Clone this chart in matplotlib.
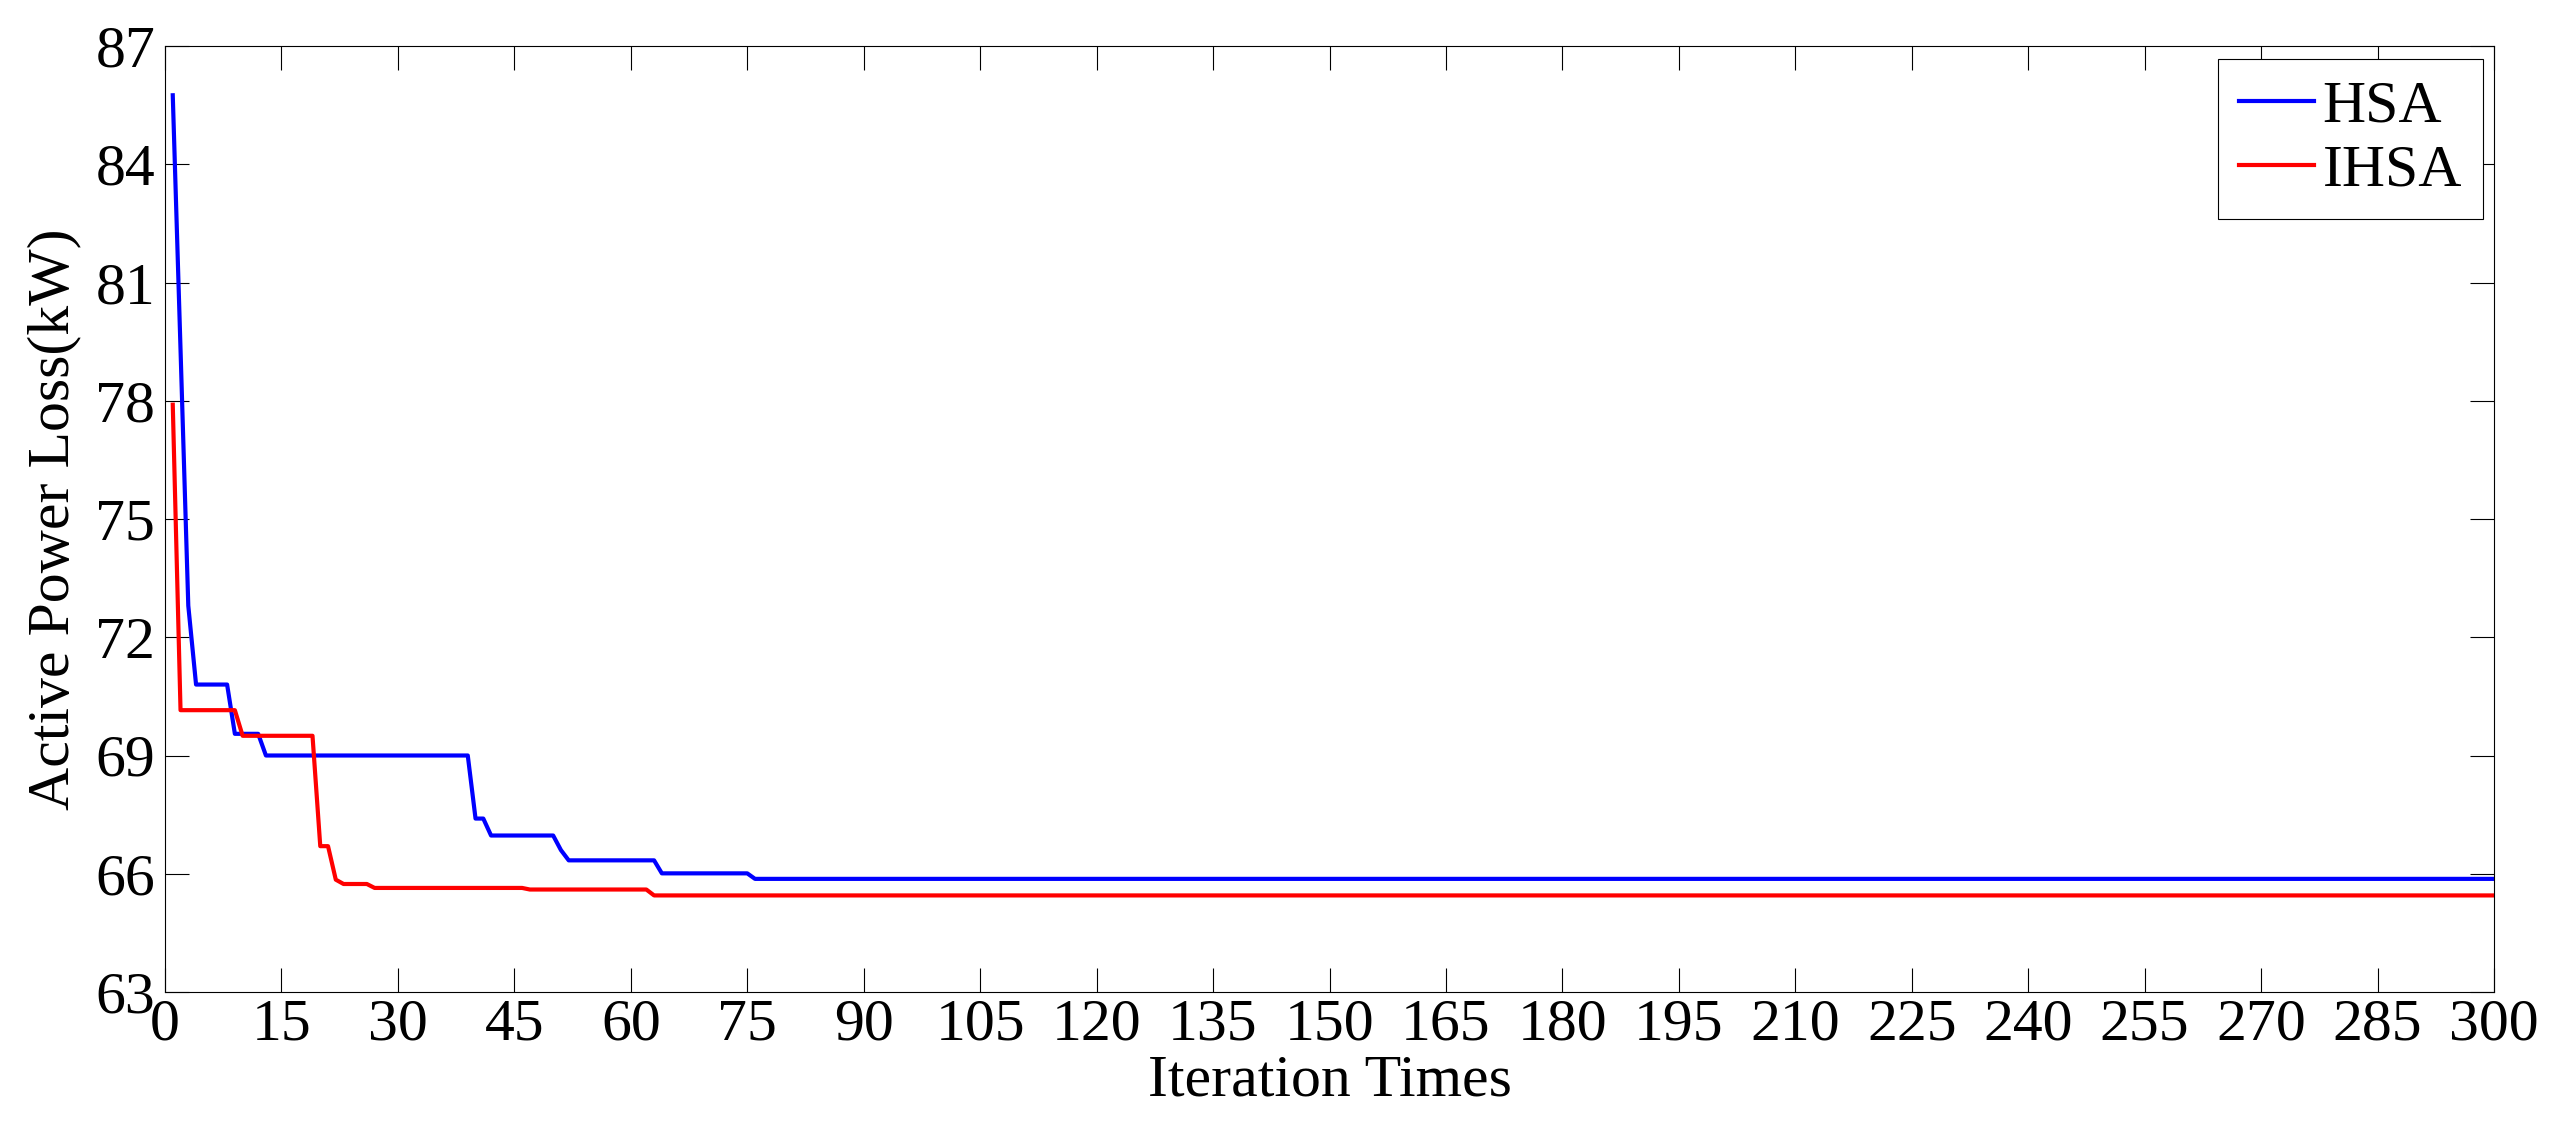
import numpy as np
import matplotlib.pyplot as plt

# Convergence curves (iteration, loss in kW) at the corners of each step
hsa_iter = [1, 2, 3, 4, 8, 9, 12, 13, 39, 40, 41, 42, 50, 51, 52, 63, 64, 75, 76, 300]
hsa_loss = [85.75, 79.3, 72.8, 70.8, 70.8, 69.55, 69.55, 69.0, 69.0, 67.4, 67.4,
            66.97, 66.97, 66.6, 66.34, 66.34, 66.01, 66.01, 65.87, 65.87]

ihsa_iter = [1, 2, 9, 10, 19, 20, 21, 22, 23, 26, 27, 46, 47, 62, 63, 300]
ihsa_loss = [77.9, 70.15, 70.15, 69.5, 69.5, 66.7, 66.7, 65.85, 65.74, 65.74,
             65.64, 65.64, 65.6, 65.6, 65.45, 65.45]

x_ticks = np.arange(0, 301, 15)
y_ticks = np.arange(63, 88, 3)

plt.rcParams['font.family'] = ['Liberation Serif', 'DejaVu Serif']

W, H = 2558, 1139
fig = plt.figure(figsize=(W / 100, H / 100), dpi=100)
left, right, top, bottom = 165, 2494, 46, 992
ax = fig.add_axes([left / W, (H - bottom) / H, (right - left) / W, (bottom - top) / H])

ax.plot(hsa_iter, hsa_loss, color='#0000ff', lw=3, label='HSA')
ax.plot(ihsa_iter, ihsa_loss, color='#ff0000', lw=3, label='IHSA')

ax.set_xlim(0, 300)
ax.set_ylim(63, 87)
ax.set_xticks(x_ticks)
ax.set_yticks(y_ticks)
ax.tick_params(direction='in', length=17, width=0.8, labelsize=43,
               top=True, right=True)
ax.tick_params(axis='x', pad=5)
ax.tick_params(axis='y', pad=7)
for s in ax.spines.values():
    s.set_linewidth(0.8)

ax.set_xlabel('Iteration Times', fontsize=43)
ax.set_ylabel('Active Power Loss(kW)', fontsize=43)
ax.xaxis.set_label_coords(0.5, -0.066)
ax.yaxis.set_label_coords(-0.036, 0.5)

leg = ax.legend(loc='upper right', bbox_to_anchor=(0.9953, 0.9863), borderaxespad=0,
                fontsize=43, handlelength=1.25, handletextpad=0.15, labelspacing=0.15,
                borderpad=0.35, fancybox=False, framealpha=1, edgecolor='black')
leg.get_frame().set_linewidth(0.8)

fig.savefig('out.png', dpi=100)
